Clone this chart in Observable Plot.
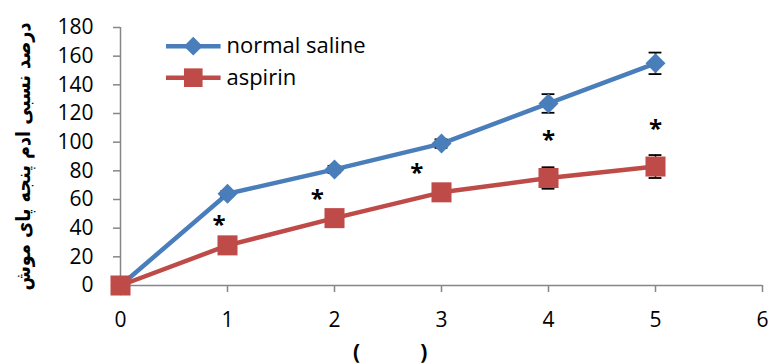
<!DOCTYPE html>
<html>
<head>
<meta charset="utf-8">
<script src="https://cdn.jsdelivr.net/npm/d3@7"></script>
<script src="https://cdn.jsdelivr.net/npm/@observablehq/plot@0.6"></script>
<style>
  html, body { margin: 0; padding: 0; background: #fff; }
  #chart { width: 770px; height: 364px; }
</style>
</head>
<body>
<div id="chart"></div>
<script>
// ---- data ----
const hours = [0, 1, 2, 3, 4, 5];
const salineMean = [0, 64, 81, 99, 127, 155];
const salineErr = [0, 2, 2.5, 3, 6.5, 7.5];
const aspirinMean = [0, 28, 47, 65, 75, 83];
const aspirinErr = [0, 2, 2.5, 3, 7.5, 8];
const starX = [0.92, 1.84, 2.77, 4, 5];
const starY = [45, 63, 81, 104, 112];
const xTicks = [0, 1, 2, 3, 4, 5, 6];
const yTicks = [0, 20, 40, 60, 80, 100, 120, 140, 160, 180];
const seriesNames = ["normal saline", "aspirin"];
const yTitle = "درصد نسبی ادم پنجه پای موش";
const xTitle = "(\u00A0\u00A0\u00A0\u00A0\u00A0\u00A0\u00A0\u00A0\u00A0\u00A0\u00A0)";

// legend placement (data units)
const legendY = [167, 145];
const legendX1 = 0.43, legendX2 = 0.94, legendMarkX = 0.68, legendTextX = 0.99;

const blue = "#4A7EBB";
const red = "#BE4B48";
const grey = "#868686";

const saline = hours.map((h, i) => ({x: h, y: salineMean[i], e: salineErr[i]}));
const aspirin = hours.map((h, i) => ({x: h, y: aspirinMean[i], e: aspirinErr[i]}));
const stars = starX.map((x, i) => ({x, y: starY[i]}));
const legend = seriesNames.map((name, i) => ({name, y: legendY[i]}));
const capHalf = 0.06;

function errorMarks(data) {
  return [
    Plot.ruleX(data.filter(d => d.e > 0), {x: "x", y1: d => d.y - d.e, y2: d => d.y + d.e, stroke: "black", strokeWidth: 1.5}),
    Plot.ruleY(data.filter(d => d.e > 0), {y: d => d.y + d.e, x1: d => d.x - capHalf, x2: d => d.x + capHalf, stroke: "black", strokeWidth: 1.8}),
    Plot.ruleY(data.filter(d => d.e > 0), {y: d => d.y - d.e, x1: d => d.x - capHalf, x2: d => d.x + capHalf, stroke: "black", strokeWidth: 1.8})
  ];
}

const chart = Plot.plot({
  width: 770,
  height: 364,
  marginLeft: 120,
  marginRight: 8,
  marginTop: 27,
  marginBottom: 79,
  style: {fontFamily: "'Open Sans', sans-serif", fontSize: "21px", color: "black", background: "white"},
  x: {domain: [0, 6]},
  y: {domain: [0, 180]},
  marks: [
    Plot.axisY({ticks: yTicks, tickSize: 7, tickPadding: 20, stroke: grey, strokeWidth: 1.5, fill: "black", label: null, tickFormat: "d"}),
    Plot.axisX({ticks: xTicks, tickSize: 7, tickPadding: 20, stroke: grey, strokeWidth: 1.5, fill: "black", label: null, tickFormat: "d"}),
    Plot.ruleX([0], {stroke: grey, strokeWidth: 1.5}),
    Plot.ruleY([0], {stroke: grey, strokeWidth: 1.5}),
    Plot.line(saline, {x: "x", y: "y", stroke: blue, strokeWidth: 4.5}),
    Plot.line(aspirin, {x: "x", y: "y", stroke: red, strokeWidth: 4.5}),
    ...errorMarks(saline),
    ...errorMarks(aspirin),
    Plot.dot(saline, {x: "x", y: "y", symbol: "diamond2", r: 9, fill: blue, stroke: null}),
    Plot.dot(aspirin, {x: "x", y: "y", symbol: "square", r: 11.3, fill: red, stroke: null}),
    Plot.text(stars, {x: "x", y: "y", text: () => "*", fontSize: 24, fontWeight: "bold", fill: "black", dy: 4}),
    // legend
    Plot.ruleY(legend, {y: "y", x1: legendX1, x2: legendX2, stroke: (d, i) => i === 0 ? blue : red, strokeWidth: 4.5}),
    Plot.dot(legend.slice(0, 1), {x: legendMarkX, y: "y", symbol: "diamond2", r: 8.5, fill: blue, stroke: null}),
    Plot.dot(legend.slice(1), {x: legendMarkX, y: "y", symbol: "square", r: 10.5, fill: red, stroke: null}),
    Plot.text(legend, {x: legendTextX, y: "y", text: "name", textAnchor: "start", fontSize: 22, fill: "black"}),
    // titles
    Plot.text([yTitle], {frameAnchor: "left", textAnchor: "middle", dx: -97, rotate: -90, text: d => d, fontSize: 20, fontWeight: "bold", fontFamily: "'DejaVu Sans Condensed', 'DejaVu Sans', sans-serif", fill: "black", className: "ytitle"}),
    Plot.text([xTitle], {x: 2.52, frameAnchor: "bottom", dy: 73, text: d => d, fontSize: 21, fontWeight: "bold", fill: "black"})
  ]
});
chart.querySelectorAll(".ytitle text").forEach(t => {
  t.setAttribute("textLength", 268);
  t.setAttribute("lengthAdjust", "spacingAndGlyphs");
});
document.getElementById("chart").appendChild(chart);
</script>
</body>
</html>
